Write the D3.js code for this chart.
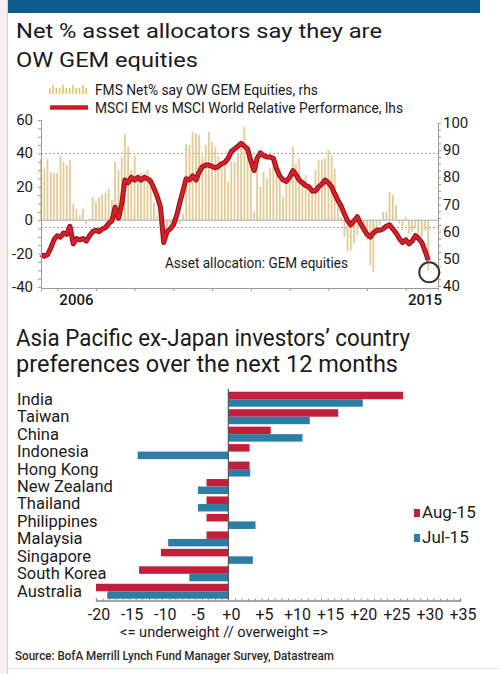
<!DOCTYPE html>
<html><head><meta charset="utf-8">
<script src="https://cdn.jsdelivr.net/npm/d3@7"></script>
<style>
html,body{margin:0;padding:0;background:#fff;}
svg{display:block;font-family:Roboto,"Noto Sans",sans-serif;}
</style></head>
<body>
<svg id="c" width="500" height="674"></svg>
<script>
// ---------- DATA ----------
// Monthly, Aug-2005 .. Aug-2015 (121 months)
const fmsNet = [36.6,31,36.6,28.5,28.5,28.5,38.6,35,33,36,9.6,6.6,3,6.6,-2.4,1,13.8,11,13.8,15.6,16.6,19,12,35,30,37.6,51.6,44,30,38.6,27.5,28.5,28.5,30,26,10.8,3,-3,-5,-4,-2,-3,2,-2,4,45.6,45,53,52,51,38,45,53,47,44,38,31,33,23,35,35,40,44.6,56,44,35,5,38,20,29,25,31,38,35,24,14,25,27,44,34,37,22,27,17,20,30,36,36,37,42,39,31,16,2,-10,-19,-18,-14,-9,-5,-8,-12,-27,-31,-8,-3,5,5,17,15,9,-2,-6,2,-8,-7,-5,-11,-10,-6,-30];
const relPerf = [51.5,51,51.5,54,57,58.5,58,59.5,59,62,55.5,57.5,57,57.5,56.5,58.5,60,60.5,60,61,61.5,63,64,69,65,70,79,78,80,79,80,79,80,79.5,78.5,76,73,69,56,60,61,62.5,66,70.5,75,79.5,79,80.5,79,82,84,84.5,84.5,84,83.5,84,85,85.5,87,89.5,90.5,91.5,92.5,91.5,90.5,86,82.5,87,89,88,87.5,87.5,87,83,80.5,79,78.5,80,82.5,81,79,78,77,76.5,75,75,76.5,77.5,79,78,76.5,74,71.5,69.5,66.5,64,62.5,64,65.5,63,61,59,58,59.5,60.5,60.5,61,62,62.5,61,59.5,57.5,56,57,55.5,56.5,58.5,57.5,56,53,49.5];
const leftTicks = [60,40,20,0,-20,-40];
const rightTicks = [100,90,80,70,60,50,40];
const yearLabels = [2006,2015];

const countries = ["India","Taiwan","China","Indonesia","Hong Kong","New Zealand","Thailand","Philippines","Malaysia","Singapore","South Korea","Australia"];
const aug15 = [26.4,16.6,6.4,3.2,3.2,-3.3,-3.3,-3.3,-3.3,-10.2,-13.5,-20];
const jul15 = [20.3,12.3,11.2,-13.7,3.3,-4.6,-4.6,4.1,-9.1,3.7,-5.9,-18.3];
const bottomTicks = [-20,-15,-10,-5,0,5,10,15,20,25,30,35];
const seriesNames = ["Aug-15","Jul-15"];

// ---------- SETUP ----------
const svg = d3.select("#c");
const RED = "#c41f3a", BLUE = "#2d7ea4", BARTAN = "#e4ca95", LINERED = "#cc1a22";

// frame
svg.append("rect").attr("x",0).attr("y",0).attr("width",7).attr("height",674).attr("fill","#f7ecee");
svg.append("line").attr("x1",7.5).attr("x2",7.5).attr("y1",0).attr("y2",674).attr("stroke","#d9cfd1");
svg.append("line").attr("x1",8).attr("x2",500).attr("y1",668.5).attr("y2",668.5).attr("stroke","#e2e2e2");
svg.append("rect").attr("x",8).attr("y",0).attr("width",472).attr("height",13).attr("fill","#0d5b8b");

function txt(t,x,y,size,len,opts={}){
  const e = svg.append("text").attr("x",x).attr("y",y).attr("font-size",size).attr("fill",opts.fill||"#1a1a1a").text(t);
  if(len){e.attr("textLength",len).attr("lengthAdjust","spacingAndGlyphs");}
  if(opts.weight) e.attr("font-weight",opts.weight);
  if(opts.anchor) e.attr("text-anchor",opts.anchor);
  return e;
}
txt("Net % asset allocators say they are",16,37.5,21,366);
txt("OW GEM equities",16,66.5,21,182);

// ---------- TOP CHART ----------
const months = d3.timeMonth.range(new Date(2005,7,1), new Date(2015,8,1));
const x = d3.scaleTime().domain([new Date(2005,7,1), new Date(2015,10,1)]).range([41,438]);
const yL = d3.scaleLinear().domain([-40,60]).range([287,120]);
const yR = d3.scaleLinear().domain([40,100]).range([286,123]);

// legend
const lg = svg.append("g");
lg.selectAll("rect").data(d3.range(12)).join("rect")
  .attr("x",(d,i)=>49+i*3.3).attr("width",1.6)
  .attr("y",(d,i)=> i%3===1?85:88).attr("height",(d,i)=> i%3===1?9:6)
  .attr("fill","#e0c86a");
lg.append("line").attr("x1",50).attr("x2",88).attr("y1",107.5).attr("y2",107.5).attr("stroke",LINERED).attr("stroke-width",4.5);
txt("FMS Net% say OW GEM Equities, rhs",95,94.5,14.5,223);
txt("MSCI EM vs MSCI World Relative Performance, lhs",95,112.5,14.5,308);

// gridlines
svg.append("line").attr("x1",41).attr("x2",438).attr("y1",yL(40)).attr("y2",yL(40))
  .attr("stroke","#9a9a9a").attr("stroke-dasharray","2,2");
svg.append("line").attr("x1",41).attr("x2",438).attr("y1",yR(61.5)).attr("y2",yR(61.5))
  .attr("stroke","#9a9a9a").attr("stroke-dasharray","2,2");

// bars
svg.append("g").selectAll("rect").data(fmsNet).join("rect")
  .attr("x",(d,i)=>x(months[i])-0.9).attr("width",1.8)
  .attr("y",d=>Math.min(yL(0),yL(d))).attr("height",d=>Math.abs(yL(d)-yL(0)))
  .attr("fill",BARTAN);

// baseline
svg.append("line").attr("x1",41).attr("x2",438).attr("y1",yL(0)).attr("y2",yL(0))
  .attr("stroke","#aaa").attr("stroke-width",1);

// line
const line = d3.line().x((d,i)=>x(months[i])).y(d=>yR(d));
svg.append("path").datum(relPerf).attr("d",line).attr("fill","none")
  .attr("stroke","#9a0f16").attr("stroke-width",5).attr("stroke-linejoin","round");
svg.append("path").datum(relPerf).attr("d",line).attr("fill","none")
  .attr("stroke","#d8202a").attr("stroke-width",2.8).attr("stroke-linejoin","round");

// axes
const axL = svg.append("g").attr("transform","translate(41,0)")
  .call(d3.axisLeft(yL).tickValues(d3.range(-40,61,5)).tickSize(3).tickFormat(""));
const axR = svg.append("g").attr("transform","translate(438,0)")
  .call(d3.axisRight(yR).tickValues(d3.range(40,101,2.5)).tickSize(3).tickFormat(""));
const axB = svg.append("g").attr("transform",`translate(0,${yL(-40)+1})`)
  .call(d3.axisBottom(x).ticks(d3.timeYear.every(1)).tickSize(3).tickFormat(""));
[axL,axR,axB].forEach(a=>{a.selectAll("path,line").attr("stroke","#999");});

svg.append("g").selectAll("text").data(leftTicks).join("text")
  .attr("x",33).attr("y",d=>yL(d)+5).attr("text-anchor","end").attr("font-size",15).attr("fill","#1a1a1a").text(d=>d<0?"-"+Math.abs(d):d);
svg.append("g").selectAll("text").data(rightTicks).join("text")
  .attr("x",443).attr("y",d=>yR(d)+5).attr("font-size",15).attr("fill","#1a1a1a").text(d=>d);
svg.append("g").selectAll("text").data(yearLabels).join("text")
  .attr("x",d=>x(new Date(d,6,1))).attr("y",305).attr("text-anchor","middle")
  .attr("font-size",15).attr("font-weight",500).attr("fill","#1a1a1a").text(d=>d);

// annotation
txt("Asset allocation: GEM equities",165,268,14,183);
svg.append("circle").attr("cx",x(months[months.length-1])+1).attr("cy",yL(fmsNet[fmsNet.length-1])+2)
  .attr("r",10).attr("fill","none").attr("stroke","#333").attr("stroke-width",2);

// ---------- BOTTOM CHART ----------
txt("Asia Pacific ex-Japan investors\u2019 country",16,346,23,394);
txt("preferences over the next 12 months",16,371.5,23,382);

const xB = d3.scaleLinear().domain([-20,35]).range([96,460]);
const yB = d3.scaleBand().domain(countries).range([390.5,600]).paddingInner(0.14).paddingOuter(0.07);
const bh = yB.bandwidth()/2;

const gB = svg.append("g");
gB.selectAll("rect.a").data(countries).join("rect").attr("class","a")
  .attr("x",(d,i)=>Math.min(xB(0),xB(aug15[i]))).attr("width",(d,i)=>Math.abs(xB(aug15[i])-xB(0)))
  .attr("y",d=>yB(d)).attr("height",bh).attr("fill",RED);
gB.selectAll("rect.b").data(countries).join("rect").attr("class","b")
  .attr("x",(d,i)=>Math.min(xB(0),xB(jul15[i]))).attr("width",(d,i)=>Math.abs(xB(jul15[i])-xB(0)))
  .attr("y",d=>yB(d)+bh).attr("height",bh).attr("fill",BLUE);

svg.append("line").attr("x1",xB(0)).attr("x2",xB(0)).attr("y1",389).attr("y2",600)
  .attr("stroke","#555").attr("stroke-width",1.2);

gB.selectAll("text.c").data(countries).join("text").attr("class","c")
  .attr("x",17).attr("y",d=>yB(d)+yB.bandwidth()/2+5.5).attr("font-size",16.5).attr("fill","#1a1a1a").text(d=>d);

const axBB = svg.append("g").attr("transform","translate(0,600.5)")
  .call(d3.axisTop(xB).tickValues(d3.range(-20,36,1)).tickSize(2).tickFormat(""));
axBB.select("path").attr("stroke","#888").attr("stroke-width",1.5);
axBB.selectAll("line").attr("stroke","#888");
svg.append("g").selectAll("text").data(bottomTicks).join("text")
  .attr("x",d=>xB(d)+3).attr("y",619.5).attr("text-anchor","middle").attr("font-size",16).attr("fill","#1a1a1a")
  .text(d=>d>0?"+"+d:(d===0?"+0":"-"+Math.abs(d)));

txt("<= underweight // overweight =>",224,637,15.5,208,{anchor:"middle"});

// legend bottom
const lgB = svg.append("g");
lgB.selectAll("rect").data(seriesNames).join("rect")
  .attr("x",414).attr("y",(d,i)=>509+i*25).attr("width",6).attr("height",8)
  .attr("fill",(d,i)=>i===0?RED:BLUE);
lgB.selectAll("text").data(seriesNames).join("text")
  .attr("x",422).attr("y",(d,i)=>517.5+i*25.5).attr("font-size",17).attr("fill","#1a1a1a").text(d=>d);

// source
txt("Source: BofA Merrill Lynch Fund Manager Survey, Datastream",15,660,12.5,319,{weight:500,fill:"#2a2a2a"});
</script>
</body></html>
